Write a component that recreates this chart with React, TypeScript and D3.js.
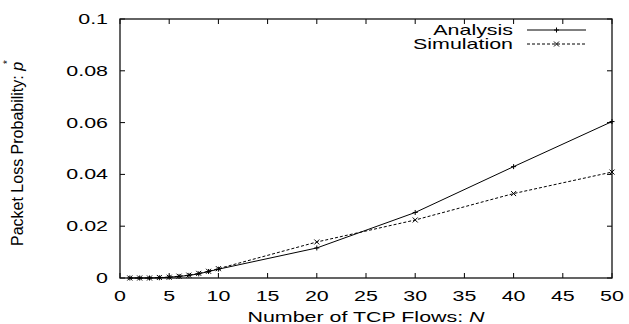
import { useEffect, useRef } from "react";
import * as d3 from "d3";

// Número de flujos TCP
const flows: number[] = [1, 2, 3, 4, 5, 6, 7, 8, 9, 10, 20, 30, 40, 50];
// Probabilidad de pérdida (análisis)
const analysis: number[] = [0.0, 0.0, 0.0, 0.0001, 0.0003, 0.0006, 0.001, 0.0016, 0.0025, 0.0034, 0.0116, 0.0253, 0.043, 0.0604];
// Probabilidad de pérdida (simulación)
const simulation: number[] = [0.0, 0.0, 0.0, 0.0002, 0.0003, 0.0007, 0.0011, 0.0018, 0.0026, 0.0036, 0.0139, 0.0224, 0.0326, 0.0409];

const xTicks: number[] = [0, 5, 10, 15, 20, 25, 30, 35, 40, 45, 50];
const yTicks: number[] = [0, 0.02, 0.04, 0.06, 0.08, 0.1];
const yTickLabels: string[] = ["0", "0.02", "0.04", "0.06", "0.08", "0.1"];

const App = () => {
  const ref = useRef<SVGSVGElement | null>(null);

  useEffect(() => {
    if (!ref.current) return;
    const svg = d3.select(ref.current);
    svg.selectAll("*").remove();

    const W = 629;
    const H = 324;
    const margin = { top: 19, right: 17, bottom: 46, left: 120 };
    const width = W - margin.left - margin.right;
    const height = H - margin.top - margin.bottom;
    const font = "'Liberation Sans', Arial, Helvetica, sans-serif";
    const sx = 1.53; // el texto original está estirado en horizontal

    const g = svg.append("g").attr("transform", `translate(${margin.left},${margin.top})`);

    const x = d3.scaleLinear().domain([0, 50]).range([0, width]);
    const y = d3.scaleLinear().domain([0, 0.1]).range([height, 0]);

    // Marcas hacia dentro en los cuatro lados
    const tickLen = 5;
    xTicks.forEach((t) => {
      g.append("line").attr("x1", x(t)).attr("x2", x(t)).attr("y1", height).attr("y2", height - tickLen)
        .attr("stroke", "#000");
      g.append("line").attr("x1", x(t)).attr("x2", x(t)).attr("y1", 0).attr("y2", tickLen)
        .attr("stroke", "#000");
      g.append("text")
        .attr("transform", `translate(${x(t)},${height + 22.5}) scale(${sx},1)`)
        .attr("text-anchor", "middle")
        .style("font-family", font)
        .style("font-size", "14px")
        .text(String(t));
    });

    yTicks.forEach((t, i) => {
      g.append("line").attr("x1", 0).attr("x2", tickLen).attr("y1", y(t)).attr("y2", y(t))
        .attr("stroke", "#000");
      g.append("line").attr("x1", width).attr("x2", width - tickLen).attr("y1", y(t)).attr("y2", y(t))
        .attr("stroke", "#000");
      g.append("text")
        .attr("transform", `translate(-12,${y(t) + 5}) scale(${sx},1)`)
        .attr("text-anchor", "end")
        .style("font-family", font)
        .style("font-size", "14px")
        .text(yTickLabels[i]);
    });

    // Marco
    g.append("rect")
      .attr("x", 0).attr("y", 0).attr("width", width).attr("height", height)
      .attr("fill", "none").attr("stroke", "#111").attr("stroke-width", 1.3);

    // Series
    const line = d3.line<number>()
      .x((_, i) => x(flows[i]))
      .y((d) => y(d));

    g.append("path").datum(analysis)
      .attr("fill", "none").attr("stroke", "#000").attr("stroke-width", 1)
      .attr("d", line);

    g.append("path").datum(simulation)
      .attr("fill", "none").attr("stroke", "#000").attr("stroke-width", 1)
      .attr("stroke-dasharray", "3,2")
      .attr("d", line);

    const s = 2.5;
    const plus = (sel: any, cx: number, cy: number) => {
      sel.append("path")
        .attr("d", `M${cx - s},${cy}H${cx + s}M${cx},${cy - s}V${cy + s}`)
        .attr("stroke", "#000").attr("stroke-width", 1).attr("fill", "none");
    };
    const cross = (sel: any, cx: number, cy: number) => {
      sel.append("path")
        .attr("d", `M${cx - s},${cy - s}L${cx + s},${cy + s}M${cx - s},${cy + s}L${cx + s},${cy - s}`)
        .attr("stroke", "#000").attr("stroke-width", 1).attr("fill", "none");
    };

    analysis.forEach((d, i) => plus(g, x(flows[i]), y(d)));
    simulation.forEach((d, i) => cross(g, x(flows[i]), y(d)));

    // Leyenda
    const legend = svg.append("g");
    const items = [
      { label: "Analysis", dash: null, mark: plus, ly: 30 },
      { label: "Simulation", dash: "3,2", mark: cross, ly: 44 },
    ];
    items.forEach((it) => {
      legend.append("text")
        .attr("transform", `translate(513,${it.ly + 5}) scale(${sx},1)`)
        .attr("text-anchor", "end")
        .style("font-family", font)
        .style("font-size", "14px")
        .text(it.label);
      legend.append("line")
        .attr("x1", 527).attr("x2", 586).attr("y1", it.ly).attr("y2", it.ly)
        .attr("stroke", "#000").attr("stroke-width", 1)
        .attr("stroke-dasharray", it.dash);
      it.mark(legend, 556.5, it.ly);
    });

    // Etiquetas de ejes
    const xl = svg.append("text")
      .attr("transform", `translate(${margin.left + width / 2},322) scale(${sx},1)`)
      .attr("text-anchor", "middle")
      .style("font-family", font)
      .style("font-size", "14px");
    xl.append("tspan").text("Number of TCP Flows: ");
    xl.append("tspan").style("font-style", "italic").text("N");

    const yl = svg.append("text")
      .attr("transform", "translate(23,246) rotate(-90)")
      .attr("text-anchor", "start")
      .style("font-family", font)
      .style("font-size", "16px");
    yl.append("tspan").text("Packet Loss Probability: ");
    yl.append("tspan").style("font-style", "italic").text("p");
    yl.append("tspan").attr("dy", -12).attr("dx", -2).style("font-size", "10px").text("*");
  }, []);

  return (
    <svg
      ref={ref}
      width={629}
      height={324}
      style={{ position: "absolute", left: 0, top: 0, background: "#fff" }}
    />
  );
};

export default App;
